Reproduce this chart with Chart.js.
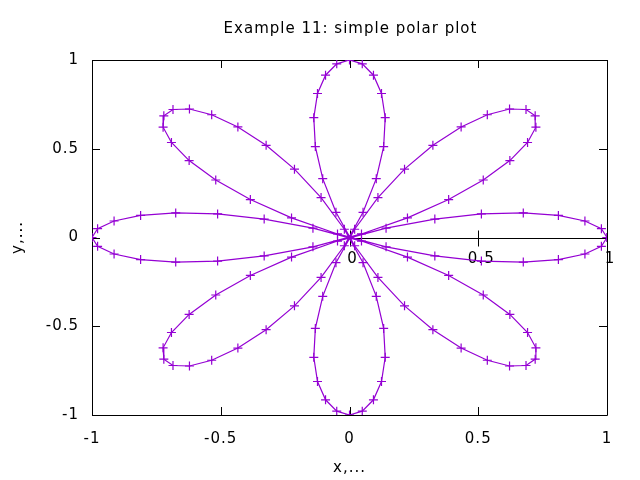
<!DOCTYPE html>
<html>
<head>
<meta charset="utf-8">
<script src="https://cdn.jsdelivr.net/npm/chart.js@4/dist/chart.umd.min.js"></script>
<style>
  html, body { margin: 0; padding: 0; background: #fff; }
  #wrap { width: 640px; height: 480px; }
</style>
</head>
<body>
<div id="wrap"><canvas id="polarChart" width="640" height="480"></canvas></div>
<script>
// sample angles (degrees) and radius
const angles = [
  0, 2.90, 5.81, 8.71, 11.61, 14.52, 17.42, 20.32, 23.23, 26.13, 29.03, 31.94, 34.84, 37.74, 40.65, 43.55,
  46.45, 49.35, 52.26, 55.16, 58.06, 60.97, 63.87, 66.77, 69.68, 72.58, 75.48, 78.39, 81.29, 84.19, 87.10,
  90.00, 92.90, 95.81, 98.71, 101.61, 104.52, 107.42, 110.32, 113.23, 116.13, 119.03, 121.94, 124.84, 127.74, 130.65,
  133.55, 136.45, 139.35, 142.26, 145.16, 148.06, 150.97, 153.87, 156.77, 159.68, 162.58, 165.48, 168.39, 171.29, 174.19,
  177.10, 180.00, 182.90, 185.81, 188.71, 191.61, 194.52, 197.42, 200.32, 203.23, 206.13, 209.03, 211.94, 214.84, 217.74,
  220.65, 223.55, 226.45, 229.35, 232.26, 235.16, 238.06, 240.97, 243.87, 246.77, 249.68, 252.58, 255.48, 258.39, 261.29,
  264.19, 267.10, 270.00, 272.90, 275.81, 278.71, 281.61, 284.52, 287.42, 290.32, 293.23, 296.13, 299.03, 301.94, 304.84,
  307.74, 310.65, 313.55, 316.45, 319.35, 322.26, 325.16, 328.06, 330.97, 333.87, 336.77, 339.68, 342.58, 345.48, 348.39,
  351.29, 354.19, 357.10, 360.00
];
const radius = [
  1, 0.9795, 0.919, 0.8207, 0.689, 0.5291, 0.3473, 0.1514, -0.0507, -0.2507, -0.4404, -0.6121, -0.7588, -0.8744, -0.9541, -0.9949,
  -0.9949, -0.9541, -0.8744, -0.7588, -0.6121, -0.4404, -0.2507, -0.0507, 0.1514, 0.3473, 0.5291, 0.689, 0.8207, 0.919, 0.9795,
  1, 0.9795, 0.919, 0.8207, 0.689, 0.5291, 0.3473, 0.1514, -0.0507, -0.2507, -0.4404, -0.6121, -0.7588, -0.8744, -0.9541,
  -0.9949, -0.9949, -0.9541, -0.8744, -0.7588, -0.6121, -0.4404, -0.2507, -0.0507, 0.1514, 0.3473, 0.5291, 0.689, 0.8207, 0.919,
  0.9795, 1, 0.9795, 0.919, 0.8207, 0.689, 0.5291, 0.3473, 0.1514, -0.0507, -0.2507, -0.4404, -0.6121, -0.7588, -0.8744,
  -0.9541, -0.9949, -0.9949, -0.9541, -0.8744, -0.7588, -0.6121, -0.4404, -0.2507, -0.0507, 0.1514, 0.3473, 0.5291, 0.689, 0.8207,
  0.919, 0.9795, 1, 0.9795, 0.919, 0.8207, 0.689, 0.5291, 0.3473, 0.1514, -0.0507, -0.2507, -0.4404, -0.6121, -0.7588,
  -0.8744, -0.9541, -0.9949, -0.9949, -0.9541, -0.8744, -0.7588, -0.6121, -0.4404, -0.2507, -0.0507, 0.1514, 0.3473, 0.5291, 0.689,
  0.8207, 0.919, 0.9795, 1
];
const xTicks = [-1, -0.5, 0, 0.5, 1];
const yTicks = [-1, -0.5, 0, 0.5, 1];
const rTicks = [0, 0.5, 1];
const chartTitle = 'Example 11: simple polar plot';

const FONT = 'DejaVu Sans, Verdana, sans-serif';
const FSIZE = 15;
const purple = '#9400d3';

// polar -> cartesian for the scatter dataset
const points = angles.map((a, i) => {
    const t = a * Math.PI / 180;
    return { x: radius[i] * Math.cos(t), y: radius[i] * Math.sin(t) };
});

// wider letter spacing like the gnuplot png text
const spacing = {
    id: 'spacing',
    beforeDraw(chart) {
        chart.ctx.letterSpacing = '1px';
    }
};

// border, inward ticks, the polar r-axis and the title (centred on the plot), gnuplot style
const gnuplotAxes = {
    id: 'gnuplotAxes',
    beforeDatasetsDraw(chart) {
        const { ctx, chartArea: a, scales: { x, y } } = chart;
        ctx.save();
        ctx.strokeStyle = '#000';
        ctx.lineWidth = 1;
        ctx.beginPath();
        ctx.rect(Math.round(a.left) + 0.5, Math.round(a.top) + 0.5,
                 Math.round(a.right - a.left), Math.round(a.bottom - a.top));
        ctx.stroke();

        const tl = 8;
        ctx.beginPath();
        xTicks.forEach(v => {
            const px = Math.round(x.getPixelForValue(v)) + 0.5;
            ctx.moveTo(px, a.bottom); ctx.lineTo(px, a.bottom - tl);
            ctx.moveTo(px, a.top); ctx.lineTo(px, a.top + tl);
        });
        yTicks.forEach(v => {
            const py = Math.round(y.getPixelForValue(v)) + 0.5;
            ctx.moveTo(a.left, py); ctx.lineTo(a.left + tl, py);
            ctx.moveTo(a.right, py); ctx.lineTo(a.right - tl, py);
        });
        // r axis
        const y0 = Math.round(y.getPixelForValue(0)) + 0.5;
        ctx.moveTo(x.getPixelForValue(0), y0);
        ctx.lineTo(x.getPixelForValue(rTicks[rTicks.length - 1]), y0);
        rTicks.forEach(v => {
            const px = Math.round(x.getPixelForValue(v)) + 0.5;
            ctx.moveTo(px, y0 - 8); ctx.lineTo(px, y0 + 8);
        });
        ctx.stroke();

        ctx.fillStyle = '#000';
        ctx.font = FSIZE + 'px ' + FONT;
        ctx.textAlign = 'center';
        ctx.textBaseline = 'middle';
        rTicks.forEach(v => {
            ctx.fillText(String(v), x.getPixelForValue(v) + 3, y0 + 21);
        });
        ctx.fillText(chartTitle, (a.left + a.right) / 2 + 1, 29);
        ctx.restore();
    }
};

new Chart(document.getElementById('polarChart').getContext('2d'), {
    type: 'scatter',
    data: {
        datasets: [{
            data: points,
            showLine: true,
            borderColor: purple,
            borderWidth: 1.2,
            pointStyle: 'cross',
            pointRadius: 4.5,
            pointBorderColor: purple,
            pointBorderWidth: 1.2,
            tension: 0
        }]
    },
    options: {
        responsive: false,
        animation: false,
        events: [],
        layout: { padding: { left: 0, right: 33, top: 60, bottom: 0 } },
        plugins: {
            legend: { display: false },
            tooltip: { enabled: false },
            title: { display: false }
        },
        scales: {
            x: {
                type: 'linear',
                min: -1, max: 1,
                grid: { display: false },
                border: { display: false },
                afterBuildTicks: s => { s.ticks = xTicks.map(v => ({ value: v })); },
                ticks: {
                    color: '#000',
                    padding: 7,
                    maxRotation: 0,
                    font: { family: FONT, size: FSIZE },
                    callback: v => String(v)
                },
                title: {
                    display: true,
                    text: 'x,...',
                    color: '#000',
                    font: { family: FONT, size: FSIZE },
                    padding: { top: 4, bottom: 3 }
                },
                afterFit: s => { s.height = 65; }
            },
            y: {
                type: 'linear',
                min: -1, max: 1,
                grid: { display: false },
                border: { display: false },
                afterBuildTicks: s => { s.ticks = yTicks.map(v => ({ value: v })); },
                ticks: {
                    color: '#000',
                    padding: 5,
                    font: { family: FONT, size: FSIZE },
                    callback: v => String(v)
                },
                title: {
                    display: true,
                    text: 'y,...',
                    color: '#000',
                    font: { family: FONT, size: FSIZE },
                    padding: { top: 9, bottom: 0 }
                },
                afterFit: s => { s.width = 92; }
            }
        }
    },
    plugins: [spacing, gnuplotAxes]
});
</script>
</body>
</html>
